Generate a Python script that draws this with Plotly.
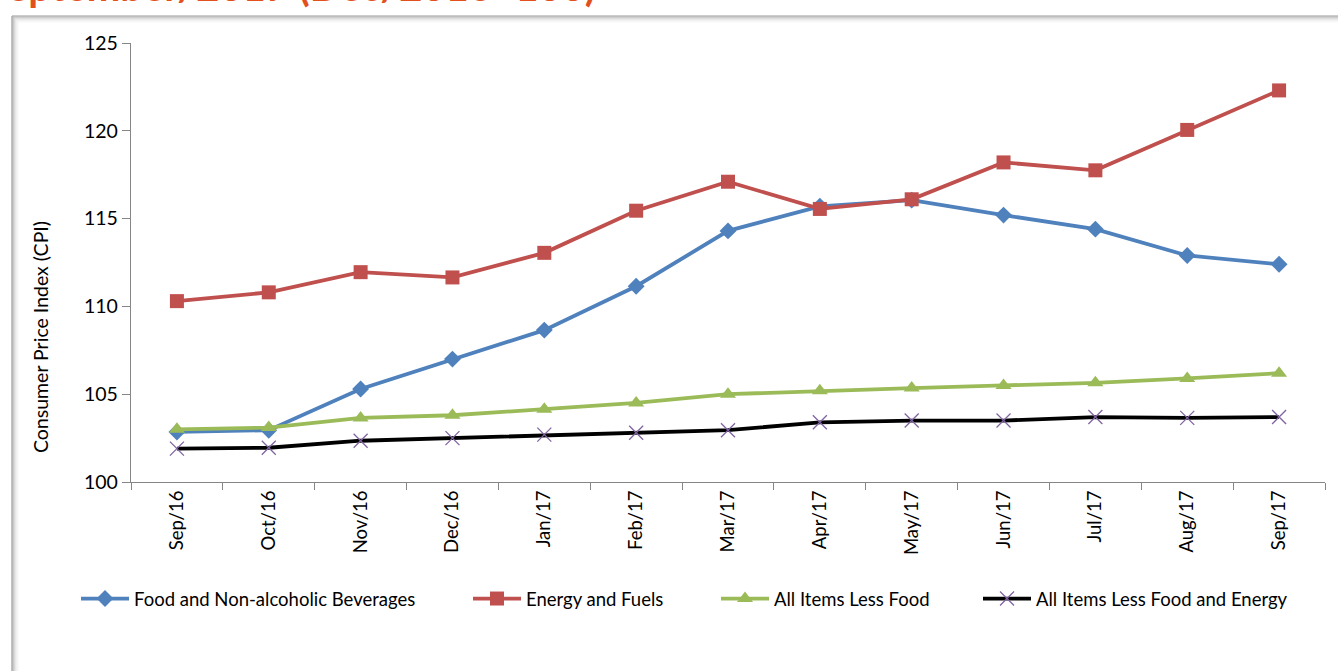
import plotly.graph_objects as go

months = ["Sep/16", "Oct/16", "Nov/16", "Dec/16", "Jan/17", "Feb/17", "Mar/17",
          "Apr/17", "May/17", "Jun/17", "Jul/17", "Aug/17", "Sep/17"]
food = [102.85, 102.95, 105.3, 107.0, 108.65, 111.15, 114.3, 115.7, 116.05, 115.2, 114.4, 112.9, 112.4]
energy = [110.3, 110.8, 111.95, 111.65, 113.05, 115.45, 117.1, 115.55, 116.1, 118.2, 117.75, 120.05, 122.3]
less_food = [103.0, 103.1, 103.65, 103.8, 104.15, 104.5, 105.0, 105.2, 105.35, 105.5, 105.65, 105.9, 106.2]
less_food_energy = [101.9, 101.95, 102.35, 102.5, 102.7, 102.8, 102.95, 103.4, 103.5, 103.5, 103.7, 103.65, 103.7]

W, H = 1338, 671
L, R, T, B = 131, 1325, 43, 482


def px(x):
    return (x - L) / (R - L)


def py(y):
    return (B - y) / (B - T)


FONT = "Lato"

fig = go.Figure()
fig.add_trace(go.Scatter(x=months, y=food, name="Food and Non-alcoholic Beverages", mode="lines+markers",
                         line=dict(color="#4F81BD", width=3.8),
                         marker=dict(symbol="diamond", size=13, color="#4F81BD"), legend="legend"))
fig.add_trace(go.Scatter(x=months, y=energy, name="Energy and Fuels", mode="lines+markers",
                         line=dict(color="#C0504D", width=3.8),
                         marker=dict(symbol="square", size=14, color="#C0504D"), legend="legend2"))
fig.add_trace(go.Scatter(x=months, y=less_food, name="All Items Less Food", mode="lines+markers",
                         line=dict(color="#9BBB59", width=3.8),
                         marker=dict(symbol="triangle-up", size=14, color="#9BBB59"), legend="legend3"))
fig.add_trace(go.Scatter(x=months, y=less_food_energy, name="All Items Less Food and Energy", mode="lines+markers",
                         line=dict(color="#000000", width=3.8),
                         marker=dict(symbol="x-thin", size=14, color="#8064A2",
                                     line=dict(color="#8064A2", width=1.3)), legend="legend4"))

shapes = []
# frame with shadow
grays = ["#9a9a9a", "#b0b0b0", "#c6c6c6", "#d8d8d8", "#e6e6e6", "#f0f0f0", "#f7f7f7"]
for i, g in enumerate(grays):
    shapes.append(dict(type="line", xref="paper", yref="paper",
                       x0=px(12 + i), x1=px(W + 5), y0=py(16 + i), y1=py(16 + i),
                       line=dict(color=g, width=1.2), layer="below"))
    shapes.append(dict(type="line", xref="paper", yref="paper",
                       x0=px(12 + i), x1=px(12 + i), y0=py(16 + i), y1=py(H + 5),
                       line=dict(color=g, width=1.2), layer="below"))

leg_common = dict(orientation="h", xanchor="left", yanchor="middle", bgcolor="rgba(0,0,0,0)",
                  font=dict(family=FONT, size=18.5, color="#000000"), itemwidth=48)

fig.update_layout(
    width=W, height=H,
    margin=dict(l=L, r=W - R, t=T, b=H - B),
    paper_bgcolor="white", plot_bgcolor="white",
    font=dict(family=FONT, size=18, color="#000000"),
    showlegend=True,
    legend=dict(x=px(76), y=py(599), **leg_common),
    legend2=dict(x=px(468), y=py(599), **leg_common),
    legend3=dict(x=px(716), y=py(599), **leg_common),
    legend4=dict(x=px(978), y=py(599), **leg_common),
    xaxis=dict(type="category", range=[-0.5, 12.5], tickson="boundaries", ticks="outside", ticklen=7,
               tickcolor="#868686", showline=True, linecolor="#868686", linewidth=1.3,
               showgrid=False, tickangle=-90, tickfont=dict(family=FONT, size=18.5), zeroline=False),
    yaxis=dict(range=[100, 125], dtick=5, ticks="outside", ticklen=8, tickcolor="#868686",
               showline=True, linecolor="#868686", linewidth=1.3, showgrid=False, zeroline=False,
               tickfont=dict(family=FONT, size=19.5)),
    shapes=shapes,
    annotations=[
        dict(text="Consumer Price Index (CPI)", xref="paper", yref="paper", x=px(40), y=py(337),
             textangle=-90, showarrow=False, font=dict(family=FONT, size=19.5, color="#000000"),
             xanchor="center", yanchor="middle"),
        dict(text="<b>September/2017 (Dec/2016=100)</b>", xref="paper", yref="paper",
             x=px(-17), y=py(-13.5), xanchor="left", yanchor="middle", showarrow=False,
             font=dict(family=FONT, size=40, color="#E2501E")),
    ],
)

fig.write_html("out.html", config={"displayModeBar": False},
               post_script="document.body.style.margin='0';document.body.style.overflow='hidden';")
